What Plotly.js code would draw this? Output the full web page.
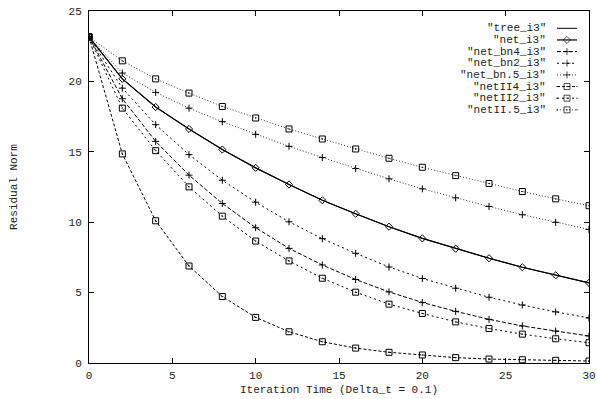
<!DOCTYPE html>
<html><head><meta charset="utf-8">
<script src="https://cdn.plot.ly/plotly-3.0.1.min.js"></script>
<style>html,body{margin:0;padding:0;background:#fff}#c{width:597px;height:399px}</style>
</head><body><div id="c"></div>
<script>
var xTime = [0,2,4,6,8,10,12,14,16,18,20,22,24,26,28,30];
var tree_i3   = [23.16,20.18,18.18,16.62,15.16,13.86,12.68,11.56,10.6,9.68,8.85,8.12,7.44,6.8,6.23,5.69];
var net_i3    = [23.16,20.18,18.18,16.62,15.16,13.86,12.68,11.56,10.6,9.68,8.85,8.12,7.44,6.8,6.23,5.69];
var net_bn4   = [23.16,18.77,15.74,13.34,11.33,9.61,8.14,6.96,5.93,5.05,4.3,3.67,3.1,2.63,2.27,1.92];
var net_bn2   = [23.16,19.52,16.93,14.8,12.98,11.42,10.03,8.83,7.79,6.82,6.0,5.31,4.67,4.12,3.63,3.2];
var net_bn05  = [23.16,20.59,19.22,18.1,17.14,16.24,15.39,14.59,13.81,13.08,12.37,11.73,11.12,10.53,9.99,9.49];
var netII4    = [23.16,14.85,10.1,6.89,4.72,3.24,2.22,1.51,1.06,0.76,0.57,0.38,0.28,0.23,0.19,0.14];
var netII2    = [23.16,18.1,15.08,12.51,10.43,8.66,7.25,6.02,5.03,4.18,3.52,2.92,2.45,2.05,1.72,1.44];
var netII05   = [23.16,21.46,20.18,19.17,18.22,17.4,16.62,15.91,15.2,14.54,13.9,13.31,12.75,12.18,11.66,11.17];
var seriesNames = ['"tree_i3"','"net_i3"','"net_bn4_i3"','"net_bn2_i3"','"net_bn.5_i3"','"netII4_i3"','"netII2_i3"','"netII.5_i3"'];
var xTicks = [0,5,10,15,20,25,30];
var yTicks = [0,5,10,15,20,25];

var FONT = 'Liberation Mono, Courier New, monospace';
var styles = [
  {data: tree_i3,  mode:'lines',         dash:'solid',     color:'#000', w:1,   sym:'circle',          ms:0},
  {data: net_i3,   mode:'lines+markers', dash:'solid',     color:'#000', w:1.2, sym:'diamond-open',    ms:5.5},
  {data: net_bn4,  mode:'lines+markers', dash:'4px,2px',   color:'#000', w:1,   sym:'cross-thin-open', ms:5},
  {data: net_bn2,  mode:'lines+markers', dash:'2px,3px',   color:'#000', w:1,   sym:'cross-thin-open', ms:5},
  {data: net_bn05, mode:'lines+markers', dash:'1px,2px',   color:'#333', w:1,   sym:'cross-thin-open', ms:5},
  {data: netII4,   mode:'lines+markers', dash:'3px,2px',   color:'#000', w:1,   sym:'square-open-dot', ms:6},
  {data: netII2,   mode:'lines+markers', dash:'2px,3px',   color:'#000', w:1,   sym:'square-open-dot', ms:6},
  {data: netII05,  mode:'lines+markers', dash:'1px,2px',   color:'#333', w:1,   sym:'square-open-dot', ms:6}
];

var traces = [];
styles.forEach(function(s, i){
  traces.push({
    x: xTime, y: s.data, type:'scatter', mode: s.mode, showlegend:false, hoverinfo:'skip',
    line:{color:s.color, width:s.w, dash:s.dash},
    marker:{symbol:s.sym, size:s.ms, color:'#000', line:{color:'#000', width:1}}
  });
});

// custom gnuplot-style key (text right, sample on the right)
var L = 89, R = 589, T = 11, B = 363;
function px2x(p){ return (p - L)/(R - L); }
function px2y(p){ return (B - p)/(B - T); }
var annotations = [];
styles.forEach(function(s, i){
  var yy = px2y(28.3 + 11.65*i);
  annotations.push({xref:'paper', yref:'paper', x: px2x(548), y: yy, xanchor:'right', yanchor:'middle',
    text: seriesNames[i], showarrow:false, font:{family:FONT, size:11, color:'#222'}});
  traces.push({
    x:[px2x(557), px2x(567), px2x(577)], y:[yy,yy,yy], xaxis:'x2', yaxis:'y2', type:'scatter',
    mode: s.mode, showlegend:false, hoverinfo:'skip',
    line:{color:s.color, width:s.w, dash:s.dash},
    marker:{symbol:s.sym, size:[0,s.ms,0], color:'#000', line:{color:'#000', width:1}}
  });
});

var layout = {
  width:597, height:399,
  margin:{l:L, r:597-R, t:T, b:399-B, pad:0},
  paper_bgcolor:'#fff', plot_bgcolor:'#fff',
  showlegend:false,
  font:{family:FONT, size:11, color:'#222'},
  xaxis:{range:[0,30], tickvals:xTicks, ticks:'inside', ticklen:5, tickcolor:'#000', mirror:'ticks',
    showline:true, linecolor:'#000', linewidth:1, showgrid:false, zeroline:false, ticklabelstandoff:2,
    tickfont:{family:FONT, size:11, color:'#222'},
    title:{text:'Iteration Time (Delta_t = 0.1)', font:{family:FONT, size:11, color:'#222'}, standoff:4}},
  yaxis:{range:[0,25], tickvals:yTicks, ticks:'inside', ticklen:5, tickcolor:'#000', mirror:'ticks',
    showline:true, linecolor:'#000', linewidth:1, showgrid:false, zeroline:false, ticklabelstandoff:4,
    tickfont:{family:FONT, size:11, color:'#222'},
    title:{text:'Residual Norm', font:{family:FONT, size:11, color:'#222'}, standoff:48}},
  xaxis2:{overlaying:'x', range:[0,1], visible:false, fixedrange:true},
  yaxis2:{overlaying:'y', range:[0,1], visible:false, fixedrange:true},
  annotations: annotations
};
Plotly.newPlot('c', traces, layout, {displayModeBar:false, staticPlot:true});
</script></body></html>
